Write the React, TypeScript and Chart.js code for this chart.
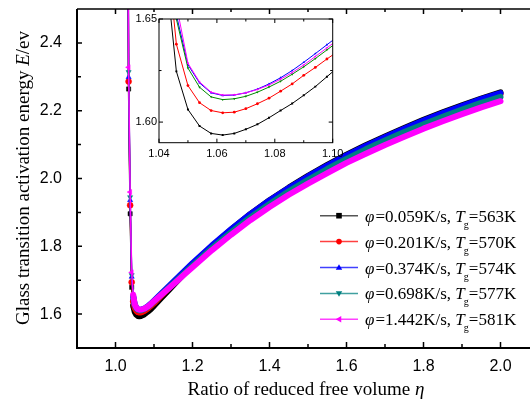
import React, { useEffect, useRef } from "react";
import { Chart, registerables } from "chart.js";
Chart.register(...registerables);

// ---------- data ----------
const eta = [1.030, 1.034, 1.038, 1.042, 1.046, 1.050, 1.054, 1.058, 1.062, 1.066, 1.070, 1.074, 1.078, 1.082, 1.086, 1.090, 1.094, 1.098, 1.102,
  1.12, 1.14, 1.16, 1.18, 1.20, 1.25, 1.30, 1.35, 1.40, 1.45, 1.50, 1.55, 1.60, 1.65, 1.70, 1.75, 1.80, 1.85, 1.90, 1.95, 2.00];

const E_0059 = [3.30, 2.264, 1.896, 1.679, 1.6246, 1.6061, 1.5981, 1.5945, 1.5937, 1.5945, 1.5965, 1.5989, 1.6021, 1.6056, 1.6090, 1.6130, 1.6172, 1.6220, 1.6268,
  1.649, 1.673, 1.697, 1.721, 1.744, 1.799, 1.849, 1.895, 1.936, 1.973, 2.008, 2.040, 2.070, 2.098, 2.124, 2.149, 2.173, 2.195, 2.216, 2.236, 2.254];
const E_0201 = [3.35, 2.286, 1.921, 1.694, 1.6378, 1.6177, 1.6094, 1.6056, 1.6045, 1.6048, 1.6065, 1.6089, 1.6116, 1.6150, 1.6185, 1.6227, 1.6265, 1.6306, 1.6345,
  1.656, 1.679, 1.702, 1.724, 1.747, 1.800, 1.848, 1.893, 1.933, 1.970, 2.004, 2.036, 2.066, 2.094, 2.120, 2.145, 2.168, 2.190, 2.211, 2.231, 2.249];
const E_0374 = [3.40, 2.299, 1.936, 1.710, 1.652, 1.6278, 1.6190, 1.6142, 1.6129, 1.6131, 1.6142, 1.6160, 1.6185, 1.6215, 1.6250, 1.6290, 1.6332, 1.6375, 1.6418,
  1.662, 1.684, 1.706, 1.728, 1.750, 1.802, 1.850, 1.895, 1.935, 1.972, 2.006, 2.038, 2.068, 2.096, 2.122, 2.147, 2.171, 2.193, 2.214, 2.234, 2.252];
const E_0698 = [3.42, 2.314, 1.945, 1.715, 1.650, 1.6262, 1.6169, 1.6122, 1.6109, 1.6113, 1.6125, 1.6145, 1.6170, 1.6198, 1.6232, 1.6268, 1.6308, 1.6350, 1.6392,
  1.659, 1.680, 1.701, 1.722, 1.743, 1.794, 1.841, 1.885, 1.925, 1.962, 1.996, 2.028, 2.058, 2.086, 2.112, 2.137, 2.160, 2.182, 2.203, 2.223, 2.241];
const E_1442 = [3.50, 2.328, 1.960, 1.723, 1.657, 1.6285, 1.6195, 1.6145, 1.6131, 1.6132, 1.6142, 1.6158, 1.6180, 1.6208, 1.6240, 1.6277, 1.6318, 1.6360, 1.6402,
  1.658, 1.678, 1.698, 1.718, 1.738, 1.788, 1.834, 1.877, 1.916, 1.952, 1.985, 2.016, 2.046, 2.073, 2.099, 2.123, 2.147, 2.169, 2.190, 2.210, 2.228];

const rates = ["0.059", "0.201", "0.374", "0.698", "1.442"];
const tgs = ["563", "570", "574", "577", "581"];

const xTicksMain = [1.0, 1.2, 1.4, 1.6, 1.8, 2.0];
const xMinorMain = [1.1, 1.3, 1.5, 1.7, 1.9];
const yTicksMain = [1.6, 1.8, 2.0, 2.2, 2.4];
const yMinorMain = [1.7, 1.9, 2.1, 2.3];
const xTicksInset = [1.04, 1.06, 1.08, 1.10];
const xMinorInset = [1.05, 1.07, 1.09];
const yTicksInset = [1.60, 1.65];
const yMinorInset = [1.625];

// ---------- styles ----------
const SERIES = [
  { values: E_0059, color: "#000000", inset: "#000000", legendLine: "#555555", marker: "rect", style: "rect", rot: 0 },
  { values: E_0201, color: "#ff0000", inset: "#ff0000", legendLine: "#ff4040", marker: "circle", style: "circle", rot: 0 },
  { values: E_0374, color: "#0000ff", inset: "#0000ff", legendLine: "#4040ff", marker: "triUp", style: "triangle", rot: 0 },
  { values: E_0698, color: "#008080", inset: "#008a00", legendLine: "#40a0a0", marker: "triDown", style: "triangle", rot: 180 },
  { values: E_1442, color: "#ff00ff", inset: "#ff00ff", legendLine: "#ff40ff", marker: "triLeft", style: "triangle", rot: -90 },
];

const SANS = '"Liberation Sans", Arial, Helvetica, sans-serif';
const SERIF = '"Liberation Serif", "Times New Roman", serif';

type Part = { t: string; font: string; dy?: number; dx?: number };

function drawRich(ctx: CanvasRenderingContext2D, parts: Part[], x: number, y: number, align: "left" | "center") {
  let total = 0;
  for (const p of parts) {
    ctx.font = p.font;
    total += ctx.measureText(p.t).width + (p.dx || 0);
  }
  let cx = align === "center" ? x - total / 2 : x;
  ctx.textAlign = "left";
  ctx.textBaseline = "alphabetic";
  for (const p of parts) {
    ctx.font = p.font;
    ctx.fillText(p.t, cx, y + (p.dy || 0));
    cx += ctx.measureText(p.t).width + (p.dx || 0);
  }
}

function drawMarker(ctx: CanvasRenderingContext2D, kind: string, x: number, y: number, r: number, color: string) {
  ctx.fillStyle = color;
  ctx.beginPath();
  if (kind === "rect") {
    ctx.rect(x - r, y - r, 2 * r, 2 * r);
  } else if (kind === "circle") {
    ctx.arc(x, y, r, 0, Math.PI * 2);
  } else if (kind === "triUp") {
    ctx.moveTo(x, y - r * 1.2); ctx.lineTo(x + r * 1.15, y + r * 0.8); ctx.lineTo(x - r * 1.15, y + r * 0.8);
  } else if (kind === "triDown") {
    ctx.moveTo(x, y + r * 1.2); ctx.lineTo(x + r * 1.15, y - r * 0.8); ctx.lineTo(x - r * 1.15, y - r * 0.8);
  } else {
    ctx.moveTo(x - r * 1.2, y); ctx.lineTo(x + r * 0.8, y - r * 1.15); ctx.lineTo(x + r * 0.8, y + r * 1.15);
  }
  ctx.closePath();
  ctx.fill();
}

const mainDecor = {
  id: "mainDecor",
  beforeDraw(chart: any) {
    const { ctx, width, height } = chart;
    ctx.save();
    ctx.fillStyle = "#ffffff";
    ctx.fillRect(0, 0, width, height);
    ctx.restore();
  },
  afterDraw(chart: any) {
    const { ctx, chartArea: a, scales } = chart;
    const x = scales.x, y = scales.y;
    ctx.save();
    ctx.strokeStyle = "#000";
    ctx.fillStyle = "#000";
    // axis lines
    ctx.lineWidth = 2;
    ctx.beginPath();
    ctx.moveTo(a.left, a.top);
    ctx.lineTo(a.left, a.bottom);
    ctx.lineTo(a.right, a.bottom);
    ctx.stroke();
    ctx.lineWidth = 1.5;
    ctx.beginPath();
    ctx.moveTo(a.left, a.top);
    ctx.lineTo(a.right, a.top);
    ctx.stroke();
    // ticks (inward)
    ctx.lineWidth = 1.5;
    ctx.beginPath();
    for (const v of xTicksMain) {
      const px = x.getPixelForValue(v);
      ctx.moveTo(px, a.bottom); ctx.lineTo(px, a.bottom - 6);
      ctx.moveTo(px, a.top); ctx.lineTo(px, a.top + 5);
    }
    for (const v of xMinorMain) {
      const px = x.getPixelForValue(v);
      ctx.moveTo(px, a.bottom); ctx.lineTo(px, a.bottom - 4);
      ctx.moveTo(px, a.top); ctx.lineTo(px, a.top + 3);
    }
    for (const v of yTicksMain) {
      const py = y.getPixelForValue(v);
      ctx.moveTo(a.left, py); ctx.lineTo(a.left + 5, py);
    }
    for (const v of yMinorMain) {
      const py = y.getPixelForValue(v);
      ctx.moveTo(a.left, py); ctx.lineTo(a.left + 4, py);
    }
    ctx.stroke();
    // tick labels
    ctx.font = `16px ${SANS}`;
    ctx.textAlign = "center";
    ctx.textBaseline = "top";
    for (const v of xTicksMain) {
      ctx.fillText(v.toFixed(1), x.getPixelForValue(v), a.bottom + 11);
    }
    ctx.textAlign = "right";
    ctx.textBaseline = "middle";
    for (const v of yTicksMain) {
      ctx.fillText(v.toFixed(1), a.left - 15, y.getPixelForValue(v));
    }
    // axis titles
    const tf = `19px ${SERIF}`;
    const tfi = `italic 19px ${SERIF}`;
    drawRich(ctx, [
      { t: "Ratio of reduced free volume ", font: tf },
      { t: "η", font: tfi },
    ], 306, 395, "center");
    ctx.save();
    ctx.translate(29, 178);
    ctx.rotate(-Math.PI / 2);
    drawRich(ctx, [
      { t: "Glass transition activation energy ", font: tf },
      { t: "E", font: tfi },
      { t: "/ev", font: tf },
    ], 0, 0, "center");
    ctx.restore();
    // legend
    for (let i = 0; i < SERIES.length; i++) {
      const s = SERIES[i];
      const ry = 215.7 + i * 25.9;
      ctx.strokeStyle = s.legendLine;
      ctx.lineWidth = 1.5;
      ctx.beginPath();
      ctx.moveTo(320, ry); ctx.lineTo(358, ry);
      ctx.stroke();
      drawMarker(ctx, s.marker, 339, ry, 2.8, s.color);
      ctx.fillStyle = "#000";
      const lf = `17px ${SERIF}`;
      drawRich(ctx, [
        { t: "φ", font: `italic 17px ${SERIF}`, dx: 1 },
        { t: `=${rates[i]}K/s, `, font: lf },
        { t: "T", font: `italic 17px ${SERIF}`, dx: -1 },
        { t: "g", font: `10px ${SERIF}`, dy: 6 },
        { t: `=${tgs[i]}K`, font: lf },
      ], 365, ry + 6, "left");
    }
    ctx.restore();
  },
};

const insetDecor = {
  id: "insetDecor",
  beforeDatasetsDraw(chart: any) {
    const { ctx, chartArea: a } = chart;
    ctx.save();
    ctx.fillStyle = "#ffffff";
    ctx.fillRect(a.left, a.top, a.right - a.left, a.bottom - a.top);
    ctx.restore();
  },
  afterDraw(chart: any) {
    const { ctx, chartArea: a, scales } = chart;
    const x = scales.x, y = scales.y;
    ctx.save();
    ctx.strokeStyle = "#000";
    ctx.lineWidth = 1;
    ctx.strokeRect(a.left, a.top, a.right - a.left, a.bottom - a.top);
    ctx.beginPath();
    for (const v of xTicksInset) {
      const px = x.getPixelForValue(v);
      ctx.moveTo(px, a.bottom); ctx.lineTo(px, a.bottom - 4);
      ctx.moveTo(px, a.top); ctx.lineTo(px, a.top + 4);
    }
    for (const v of xMinorInset) {
      const px = x.getPixelForValue(v);
      ctx.moveTo(px, a.bottom); ctx.lineTo(px, a.bottom - 2.5);
      ctx.moveTo(px, a.top); ctx.lineTo(px, a.top + 2.5);
    }
    for (const v of yTicksInset) {
      const py = y.getPixelForValue(v);
      ctx.moveTo(a.left, py); ctx.lineTo(a.left + 4, py);
      ctx.moveTo(a.right, py); ctx.lineTo(a.right - 4, py);
    }
    for (const v of yMinorInset) {
      const py = y.getPixelForValue(v);
      ctx.moveTo(a.left, py); ctx.lineTo(a.left + 2.5, py);
      ctx.moveTo(a.right, py); ctx.lineTo(a.right - 2.5, py);
    }
    ctx.stroke();
    ctx.fillStyle = "#000";
    ctx.font = `11px ${SANS}`;
    ctx.textAlign = "center";
    ctx.textBaseline = "top";
    for (const v of xTicksInset) {
      ctx.fillText(v.toFixed(2), x.getPixelForValue(v), a.bottom + 6);
    }
    ctx.textAlign = "right";
    ctx.textBaseline = "middle";
    for (const v of yTicksInset) {
      ctx.fillText(v.toFixed(2), a.left - 2, y.getPixelForValue(v));
    }
    ctx.restore();
  },
};

const STEEP_END = 1.0465;

export default function App() {
  const mainRef = useRef<HTMLCanvasElement>(null);
  const insetRef = useRef<HTMLCanvasElement>(null);

  useEffect(() => {
    const mainChart = new Chart(mainRef.current as HTMLCanvasElement, {
      type: "line",
      data: {
        datasets: SERIES.map((s, i) => ({
          label: rates[i],
          data: eta.map((xv, j) => ({ x: xv, y: s.values[j] })),
          borderColor: s.color,
          backgroundColor: s.color,
          pointBackgroundColor: s.color,
          pointBorderColor: s.color,
          pointBorderWidth: 0.5,
          pointStyle: s.style as any,
          pointRotation: s.rot,
          pointRadius: (c: any) => (eta[c.dataIndex] <= STEEP_END ? 3 : 0),
          borderWidth: 6,
          borderJoinStyle: "round",
          borderCapStyle: "round",
          tension: 0,
          order: SERIES.length - i,
          segment: {
            borderWidth: (c: any) => (c.p0.parsed.x < STEEP_END - 0.001 ? 1.5 : 6),
          },
        })) as any,
      },
      options: {
        responsive: false,
        animation: false,
        devicePixelRatio: 1,
        layout: { padding: { left: 77, top: 9, right: 6, bottom: 52 } },
        plugins: { legend: { display: false }, tooltip: { enabled: false } },
        events: [],
        scales: {
          x: { type: "linear", min: 0.9, max: 2.1, display: false },
          y: { type: "linear", min: 1.5, max: 2.5, display: false },
        },
      },
      plugins: [mainDecor],
    });

    const insetChart = new Chart(insetRef.current as HTMLCanvasElement, {
      type: "line",
      data: {
        datasets: SERIES.map((s, i) => ({
          label: rates[i],
          data: eta.map((xv, j) => ({ x: xv, y: s.values[j] })),
          borderColor: s.inset,
          backgroundColor: s.inset,
          pointBackgroundColor: s.inset,
          pointBorderColor: s.inset,
          pointStyle: s.style as any,
          pointRotation: s.rot,
          pointRadius: 1.4,
          pointBorderWidth: 0,
          borderWidth: 1,
          tension: 0,
          clip: 0,
          order: SERIES.length - i,
        })) as any,
      },
      options: {
        responsive: false,
        animation: false,
        devicePixelRatio: 1,
        layout: { padding: { left: 34, top: 11, right: 22.3, bottom: 20.3 } },
        plugins: { legend: { display: false }, tooltip: { enabled: false } },
        events: [],
        scales: {
          x: { type: "linear", min: 1.04, max: 1.10, display: false },
          y: { type: "linear", min: 1.59, max: 1.65, display: false },
        },
      },
      plugins: [insetDecor],
    });

    return () => {
      mainChart.destroy();
      insetChart.destroy();
    };
  }, []);

  return (
    <div style={{ position: "absolute", left: 0, top: 0, width: 530, height: 400, overflow: "hidden", background: "#fff" }}>
      <canvas ref={mainRef} width={545} height={400} style={{ position: "absolute", left: 0, top: 0, display: "block" }} />
      <canvas ref={insetRef} width={230} height={155} style={{ position: "absolute", left: 125, top: 8, display: "block" }} />
    </div>
  );
}
